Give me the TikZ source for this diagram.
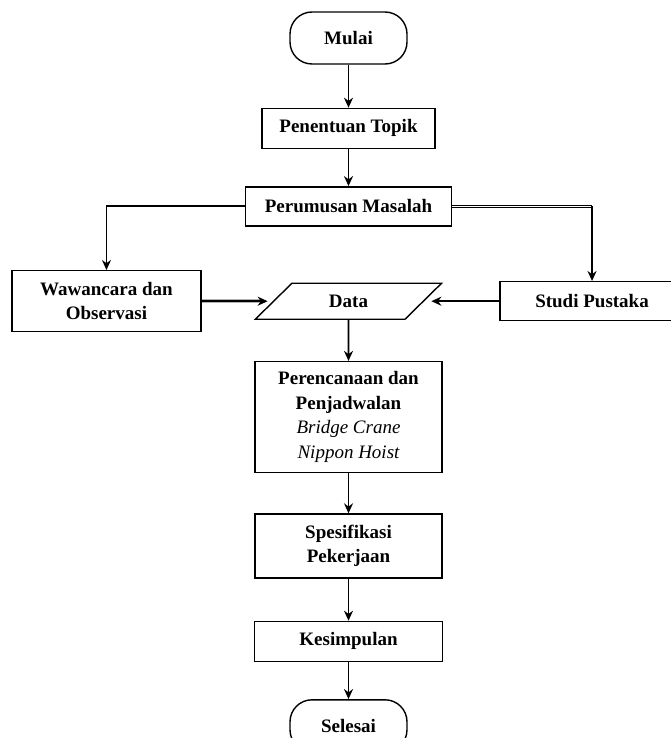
\documentclass[tikz,border=0pt]{standalone}
\usepackage{fontspec}
\setmainfont{Liberation Serif}
\usetikzlibrary{shapes,arrows.meta,positioning}

\begin{document}
\begin{tikzpicture}[x=1pt,y=-1pt,
  font=\fontsize{19}{24.5}\selectfont\bfseries,
  box/.style={draw, line width=1.4pt, inner sep=0pt, align=center},
  ends/.style={box, rounded corners=22pt, minimum width=117pt, minimum height=52pt},
  io/.style={draw, line width=1.4pt, trapezium, trapezium left angle=45,
    trapezium right angle=135, trapezium stretches=true,
    minimum width=187pt, minimum height=36pt, inner sep=0pt},
  link/.style={line width=1.8pt, -{Stealth[length=10pt,width=9pt]}}]

  \useasboundingbox (0,0) rectangle (671,738);

  \node [ends] (A) at (348.5,38) {Mulai};
  \node [box, minimum width=173pt, minimum height=40pt, below=43pt of A] (B) {Penentuan Topik};
  \node [box, minimum width=206pt, minimum height=39pt, below=37pt of B] (C) {Perumusan Masalah};

  \node [io, below=56pt of C] (D) {Data};
  \node [box, minimum width=189pt, minimum height=61pt, left=71pt of D] (E) {Wawancara dan\\Observasi};
  \node [box, minimum width=184pt, minimum height=39pt, right=75pt of D] (F) {Studi Pustaka};

  \node [box, minimum width=187pt, minimum height=111pt, below=41pt of D] (G)
    {Perencanaan dan\\Penjadwalan\\{\mdseries\itshape Bridge Crane}\\{\mdseries\itshape Nippon Hoist}};
  \node [box, minimum width=187pt, minimum height=64pt, below=40pt of G] (H) {Spesifikasi\\Pekerjaan};
  \node [box, minimum width=188pt, minimum height=40pt, below=42pt of H] (I) {Kesimpulan};
  \node [ends, below=37pt of I] (J) {Selesai};

  \draw [link] (A) -- (B);
  \draw [link] (B) -- (C);
  \draw [link] (C.west) -| (E.north);
  \draw [line width=1pt, double, double distance=1.2pt] (C.east) -- (C.east -| F.north);
  \draw [link] (C.east -| F.north) -- (F.north);
  \draw [link, shorten >=5pt,
    preaction={draw, gray!60, line width=3.6pt, -, shorten >=12pt}] (E.east) -- (E.east -| D.west);
  \draw [link, shorten >=7pt] (F.west) -- (F.west -| D.east);
  \draw [link] (D) -- (G);
  \draw [link] (G) -- (H);
  \draw [link] (H) -- (I);
  \draw [link] (I) -- (J);
\end{tikzpicture}
\end{document}
